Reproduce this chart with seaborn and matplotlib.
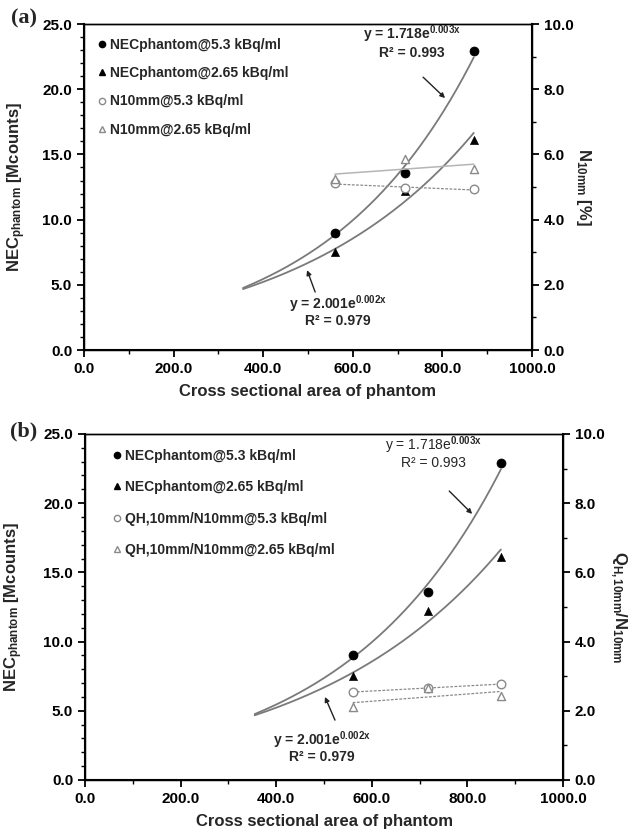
import numpy as np
import matplotlib
matplotlib.use("Agg")
import matplotlib.pyplot as plt
import seaborn as sns
from matplotlib.lines import Line2D
from matplotlib.ticker import MultipleLocator, FormatStrFormatter

# ---------------- data ----------------
area = [560, 717, 870]
nec_53 = [9.0, 13.6, 22.9]
nec_265 = [7.5, 12.2, 16.1]
n10_53 = [5.11, 4.96, 4.93]
n10_265 = [5.25, 5.85, 5.55]
q_53 = [2.54, 2.66, 2.77]
q_265 = [2.11, 2.65, 2.43]
fit_start = 355

labels_a = ["NECphantom@5.3 kBq/ml", "NECphantom@2.65 kBq/ml",
            "N10mm@5.3 kBq/ml", "N10mm@2.65 kBq/ml"]
labels_b = ["NECphantom@5.3 kBq/ml", "NECphantom@2.65 kBq/ml",
            "QH,10mm/N10mm@5.3 kBq/ml", "QH,10mm/N10mm@2.65 kBq/ml"]
eq_hi = ("y = 1.718e", "0.003x", "R² = 0.993")
eq_lo = ("y = 2.001e", "0.002x", "R² = 0.979")

sns.set_theme(style="ticks")
plt.rcParams['font.family'] = ['Liberation Sans', 'DejaVu Sans']
plt.rcParams['font.weight'] = 'bold'
plt.rcParams['mathtext.fontset'] = 'custom'
plt.rcParams['mathtext.rm'] = 'Liberation Sans'
plt.rcParams['mathtext.bf'] = 'Liberation Sans:bold'
plt.rcParams['mathtext.it'] = 'Liberation Sans:italic'

CURVE = '#7a7a7a'
OPEN = '#8a8a8a'
DOT = (0, (2.2, 1.2))

fig = plt.figure(figsize=(6.33, 8.35), dpi=100)


def draw_panel(rect, right_a, right_b, right_styles, right_label, legend_labels,
               leg_anchor, leg_spacing, txt, hi_bold):
    ax = fig.add_axes(rect)
    ax2 = ax.twinx()
    xs = np.linspace(fit_start, area[-1], 150)
    # exponential trendlines
    for series in (nec_53, nec_265):
        b, lna = np.polyfit(area, np.log(series), 1)
        sns.lineplot(x=xs, y=np.exp(lna + b * xs), ax=ax, color=CURVE, lw=1.3)
    sns.scatterplot(x=area, y=nec_53, ax=ax, marker='o', color='black',
                    edgecolor='black', s=42, zorder=5)
    sns.scatterplot(x=area, y=nec_265, ax=ax, marker='^', color='black',
                    edgecolor='black', s=34, zorder=5)
    # linear trendlines on right axis
    ends = [area[0], area[-1]]
    for series, (ls, col, lw) in zip((right_a, right_b), right_styles):
        coef = np.polyfit(area, series, 1)
        sns.lineplot(x=ends, y=np.polyval(coef, ends), ax=ax2, color=col,
                     lw=lw, linestyle=ls)
    sns.scatterplot(x=area, y=right_a, ax=ax2, marker='o', color='white',
                    edgecolor=OPEN, linewidth=1.0, s=38, zorder=5)
    sns.scatterplot(x=area, y=right_b, ax=ax2, marker='^', color='white',
                    edgecolor=OPEN, linewidth=1.0, s=34, zorder=5)

    ax.set_xlim(0, 1000)
    ax.set_ylim(0, 25)
    ax2.set_ylim(0, 10)
    ax.xaxis.set_major_locator(MultipleLocator(200))
    ax.xaxis.set_minor_locator(MultipleLocator(100))
    ax.yaxis.set_major_locator(MultipleLocator(5))
    ax.yaxis.set_minor_locator(MultipleLocator(1))
    ax2.yaxis.set_major_locator(MultipleLocator(2))
    ax2.yaxis.set_minor_locator(MultipleLocator(1))
    for a in (ax, ax2):
        a.xaxis.set_major_formatter(FormatStrFormatter('%.1f'))
        a.yaxis.set_major_formatter(FormatStrFormatter('%.1f'))
        a.tick_params(which='major', direction='out', length=5, width=1.3,
                      labelsize=11, color='black', labelcolor='black')
        a.tick_params(which='minor', direction='out', length=3, width=1.0,
                      color='black')
        for s in a.spines.values():
            s.set_color('black')
            s.set_linewidth(1.0)
            s.set_visible(True)
    ax.spines['left'].set_linewidth(1.5)
    ax.spines['bottom'].set_linewidth(1.5)
    ax2.spines['right'].set_linewidth(1.5)
    ax.tick_params(axis='x', which='both', top=False)
    for t in ax.get_xticklabels() + ax.get_yticklabels() + ax2.get_yticklabels():
        t.set_fontweight('bold')

    ax.set_xlabel("Cross sectional area of phantom", fontsize=12,
                  fontweight='bold', labelpad=6)
    ax.set_ylabel(r"NEC$_\mathbf{phantom}$ [Mcounts]", fontsize=12,
                  fontweight='bold')
    ax.yaxis.set_label_coords(-0.125, 0.5)
    ax2.set_ylabel(right_label, fontsize=12, fontweight='bold', rotation=-90,
                   va='center')
    ax2.yaxis.set_label_coords(1.115, 0.5)

    handles = [
        Line2D([], [], marker='o', ls='', color='black', markersize=4.5),
        Line2D([], [], marker='^', ls='', color='black', markersize=4.5),
        Line2D([], [], marker='o', ls='', markerfacecolor='white',
               markeredgecolor=OPEN, markersize=4.5),
        Line2D([], [], marker='^', ls='', markerfacecolor='white',
               markeredgecolor=OPEN, markersize=4.5),
    ]
    leg = ax2.legend(handles, legend_labels, loc='upper left',
                     bbox_to_anchor=leg_anchor, frameon=False, fontsize=10,
                     handlelength=0.6, handletextpad=0.3, borderpad=0,
                     borderaxespad=0, labelspacing=leg_spacing)
    for t in leg.get_texts():
        t.set_fontweight('bold')

    (hi_x, hi_y, hi_r, hi_tail, hi_tip, lo_x, lo_y, lo_r, lo_tail, lo_tip) = txt
    w_hi = 'bold' if hi_bold else 'normal'
    sup_hi = (r"$^{\mathbf{%s}}$" if hi_bold else r"$^{\mathrm{%s}}$") % eq_hi[1]
    fs = 10
    ax2.text(hi_x, hi_y, eq_hi[0] + sup_hi, transform=ax2.transAxes,
             ha='center', va='center', fontsize=fs, fontweight=w_hi)
    ax2.text(hi_x, hi_r, eq_hi[2], transform=ax2.transAxes, ha='center',
             va='center', fontsize=fs, fontweight=w_hi)
    ax2.text(lo_x, lo_y, eq_lo[0] + r"$^{\mathbf{%s}}$" % eq_lo[1],
             transform=ax2.transAxes, ha='center', va='center', fontsize=fs,
             fontweight='bold')
    ax2.text(lo_x, lo_r, eq_lo[2], transform=ax2.transAxes, ha='center',
             va='center', fontsize=fs, fontweight='bold')
    for tail, tip in ((hi_tail, hi_tip), (lo_tail, lo_tip)):
        ax2.annotate('', xy=tip, xytext=tail, xycoords='axes fraction',
                     textcoords='axes fraction',
                     arrowprops=dict(arrowstyle='-|>', color='#222222', lw=1.0,
                                     mutation_scale=7, shrinkA=0, shrinkB=0))
    return ax, ax2


draw_panel([0.1327, 0.5808, 0.7077, 0.3904], n10_53, n10_265,
           [(DOT, '#8a8a8a', 0.9), ('-', '#b5b5b5', 1.1)],
           r"N$_\mathbf{10mm}$ [%]", labels_a, (0.03, 0.957), 1.02,
           (0.732, 0.970, 0.912, (0.757, 0.837), (0.806, 0.773),
            0.567, 0.140, 0.088, (0.516, 0.178), (0.498, 0.245)), True)

draw_panel([0.1343, 0.0659, 0.7551, 0.4144], q_53, q_265,
           [(DOT, '#8a8a8a', 0.9), (DOT, '#8a8a8a', 0.9)],
           r"Q$_\mathbf{H,10mm}$/N$_\mathbf{10mm}$", labels_b, (0.058, 0.957), 1.25,
           (0.730, 0.968, 0.916, (0.762, 0.835), (0.810, 0.769),
            0.496, 0.115, 0.066, (0.523, 0.173), (0.502, 0.240)), False)

fig.text(0.038, 0.978, "(a)", fontsize=16, fontweight='bold',
         family='Liberation Serif', ha='center', va='center')
fig.text(0.038, 0.483, "(b)", fontsize=16, fontweight='bold',
         family='Liberation Serif', ha='center', va='center')

fig.savefig("out.png", dpi=100)
